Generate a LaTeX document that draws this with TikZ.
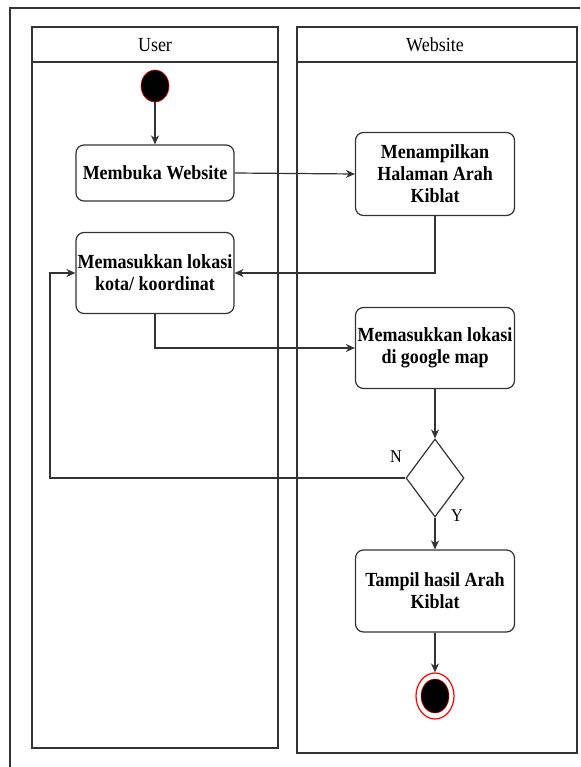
\documentclass[tikz,border=0pt]{standalone}
\usepackage{fontspec}
\setmainfont{Liberation Serif}[FakeStretch=0.9]
\usetikzlibrary{arrows.meta,shapes.geometric}
\definecolor{edge}{HTML}{333333}
\tikzset{
  lane/.style={draw=edge, line width=1.3pt},
  lanetitle/.style={font=\fontsize{20}{22}\selectfont, inner sep=0pt},
  action/.style={draw=edge, line width=1.2pt, rounded corners=8pt, align=center,
    inner sep=1pt, font=\bfseries\fontsize{20}{22}\selectfont},
  flow/.style={draw=edge, line width=1.2pt, -{Stealth[length=9pt,width=8pt]}},
  startnode/.style={ellipse, fill=black, draw=red, line width=0.6pt,
    minimum width=28pt, minimum height=32pt, inner sep=0pt},
  endring/.style={ellipse, draw=red, line width=1.2pt, fill=white,
    minimum width=38pt, minimum height=46pt, inner sep=0pt},
  endcore/.style={ellipse, fill=black, draw=red, line width=0.5pt,
    minimum width=28pt, minimum height=34pt, inner sep=0pt},
  decision/.style={diamond, draw=edge, line width=1.2pt, minimum width=58pt,
    minimum height=78pt, inner sep=0pt},
  guard/.style={font=\fontsize{18}{20}\selectfont, inner sep=0pt}
}
\begin{document}
\begin{tikzpicture}[x=1pt,y=-1pt]
\useasboundingbox (0,0) rectangle (580,767);
\fill[white] (0,0) rectangle (580,767);

% outer frame
\draw[draw=edge, line width=1.3pt] (10,767) -- (10,8) -- (580,8);

% swimlanes
\draw[lane] (32,27) rectangle (278,748);
\draw[lane] (32,62) -- (278,62);
\draw[lane] (297,27) rectangle (577,753);
\draw[lane] (297,62) -- (577,62);
\node[lanetitle] (userT) at (155,45) {User};
\node[lanetitle] (webT) at (435,45) {Website};

% activities
\node[startnode] (start) at (155,86) {};
\node[action, minimum width=158pt, minimum height=56pt] (open) at (155,173) {Membuka Website};
\node[action, minimum width=159pt, minimum height=83pt] (show) at (435,174) {Menampilkan\\Halaman Arah\\Kiblat};
\node[action, minimum width=158pt, minimum height=81pt] (city) at (155,273) {Memasukkan lokasi\\kota/ koordinat};
\node[action, minimum width=159pt, minimum height=81pt] (gmap) at (435,348) {Memasukkan lokasi\\di google map};
\node[decision] (check) at (435,478) {};
\node[action, minimum width=159pt, minimum height=82pt] (result) at (435,591) {Tampil hasil Arah\\Kiblat};
\node[endring] (stop) at (435,696) {};
\node[endcore] (stopcore) at (435,696) {};

\node[guard] (gN) at (396,457) {N};
\node[guard] (gY) at (457,516) {Y};

\coordinate (loopL) at (50,478);

% flows
\draw[flow] (start.south) -- (open.north);
\draw[flow] (open.east) -- (show.west);
\draw[flow] (show.south) |- (city.east);
\draw[flow] (city.south) |- (gmap.west);
\draw[flow] (gmap.south) -- (check.north);
\draw[flow] (check.west) -- (loopL) |- (city.west);
\draw[flow] (check.south) -- (result.north);
\draw[flow] (result.south) -- (stop.north);
\end{tikzpicture}
\end{document}
